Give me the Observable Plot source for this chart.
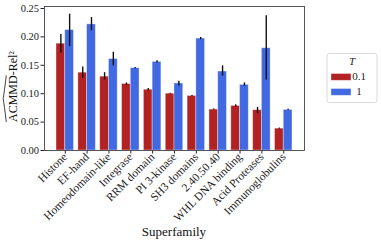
<!DOCTYPE html>
<html><head><meta charset="utf-8">
<script src="https://cdn.jsdelivr.net/npm/d3@7"></script>
<script src="https://cdn.jsdelivr.net/npm/@observablehq/plot@0.6"></script>
<style>body{margin:0;background:white;} #chart{position:relative;width:381px;height:246px;}</style>
</head><body><div id="chart"></div>
<script>
const categories = ["Histone","EF-hand","Homeodomain-like","Integrase","RRM domain","PI 3-kinase","SH3 domains","2.40.50.40","WHL DNA binding","Acid Proteases","Immunoglobulins"];
const temps = ["0.1","1"];
const mean01 = [0.188,0.137,0.130,0.117,0.107,0.100,0.096,0.072,0.0785,0.071,0.0385];
const lo01   = [0.171,0.127,0.124,0.115,0.105,0.099,0.095,0.071,0.0765,0.065,0.0375];
const hi01   = [0.204,0.147,0.137,0.119,0.109,0.101,0.097,0.073,0.0805,0.076,0.0395];
const mean1  = [0.212,0.222,0.161,0.145,0.156,0.118,0.197,0.139,0.1155,0.180,0.0715];
const lo1    = [0.183,0.211,0.149,0.144,0.154,0.1135,0.195,0.131,0.113,0.124,0.0705];
const hi1    = [0.240,0.234,0.173,0.146,0.158,0.122,0.199,0.149,0.119,0.237,0.0725];
const yTicks = [0, 0.05, 0.10, 0.15, 0.20, 0.25];
const colors = ["#b22222", "#4169e1"];

const rows = [];
categories.forEach((c, i) => {
  rows.push({i, T: temps[0], mean: mean01[i], lo: lo01[i], hi: hi01[i], x1: i - 0.4, x2: i, xc: i - 0.2});
  rows.push({i, T: temps[1], mean: mean1[i], lo: lo1[i], hi: hi1[i], x1: i, x2: i + 0.4, xc: i + 0.2});
});

const FONT = "'Liberation Serif', 'DejaVu Serif', serif";
const plot = Plot.plot({
  width: 381, height: 246,
  marginLeft: 44, marginRight: 77, marginTop: 6, marginBottom: 96,
  style: {fontFamily: FONT, fontSize: "10.5px", background: "white", color: "#222"},
  x: {domain: [-0.95, 10.95], axis: null},
  y: {domain: [0, 0.2535], axis: null},
  color: {domain: temps, range: colors},
  marks: [
    Plot.rectY(rows, {x1: "x1", x2: "x2", y: "mean", fill: "T", stroke: "white", strokeOpacity: 0.45, strokeWidth: 0.8}),
    Plot.ruleX(rows, {x: "xc", y1: "lo", y2: "hi", stroke: "#111", strokeWidth: 1.4}),
    Plot.axisY({ticks: yTicks, tickFormat: d3.format(".2f"), tickSize: 3.5, tickPadding: 2, label: null, fontSize: 10.5}),
    Plot.axisX({ticks: d3.range(categories.length), tickFormat: i => categories[i], tickRotate: -45, tickSize: 3.5, tickPadding: 1, label: null, fontSize: 11.5}),
    Plot.frame({stroke: "#444", strokeWidth: 0.9})
  ]
});
document.getElementById("chart").appendChild(plot);

const svg = d3.select(plot);
const color = plot.scale("color");
// x label
svg.append("text").attr("x", 174).attr("y", 236).attr("text-anchor", "middle")
  .attr("font-family", FONT).attr("font-size", 13).attr("fill", "#111").text("Superfamily");
// y label
const yl = svg.append("text").attr("transform", "translate(16.5,86.5) rotate(-90)").attr("text-anchor", "middle")
  .attr("font-family", FONT).attr("font-size", 12).attr("fill", "#111").text("ACMMD-Rel²");
const node = yl.node();
const total = node.getComputedTextLength();
const sub = node.getSubStringLength(0, 5);
const yStart = 86.5 + total / 2;
const yEnd = yStart - sub;
const yMid = (yStart + yEnd) / 2;
svg.append("path").attr("d", `M6.3,${yStart} Q4.2,${yMid + 6} 3.2,${yMid} Q4.2,${yMid - 6} 6.3,${yEnd}`)
  .attr("fill", "none").attr("stroke", "#111").attr("stroke-width", 0.8);
// legend
const lg = svg.append("g").attr("font-family", FONT).attr("font-size", 11).attr("fill", "#222");
lg.append("rect").attr("x", 327).attr("y", 53.5).attr("width", 50).attr("height", 49).attr("rx", 2.5)
  .attr("fill", "white").attr("stroke", "#d5d5d5").attr("stroke-width", 0.9);
lg.append("text").attr("x", 352).attr("y", 65).attr("text-anchor", "middle").attr("font-style", "italic").text("T");
temps.forEach((t, k) => {
  const yy = 73.5 + k * 15;
  lg.append("rect").attr("x", 331).attr("y", yy).attr("width", 20).attr("height", 6.8)
    .attr("fill", color.apply(t)).attr("stroke", "white").attr("stroke-opacity", 0.45).attr("stroke-width", 0.8);
  lg.append("text").attr("x", 359).attr("y", yy + 6.8).text(t);
});
</script></body></html>
